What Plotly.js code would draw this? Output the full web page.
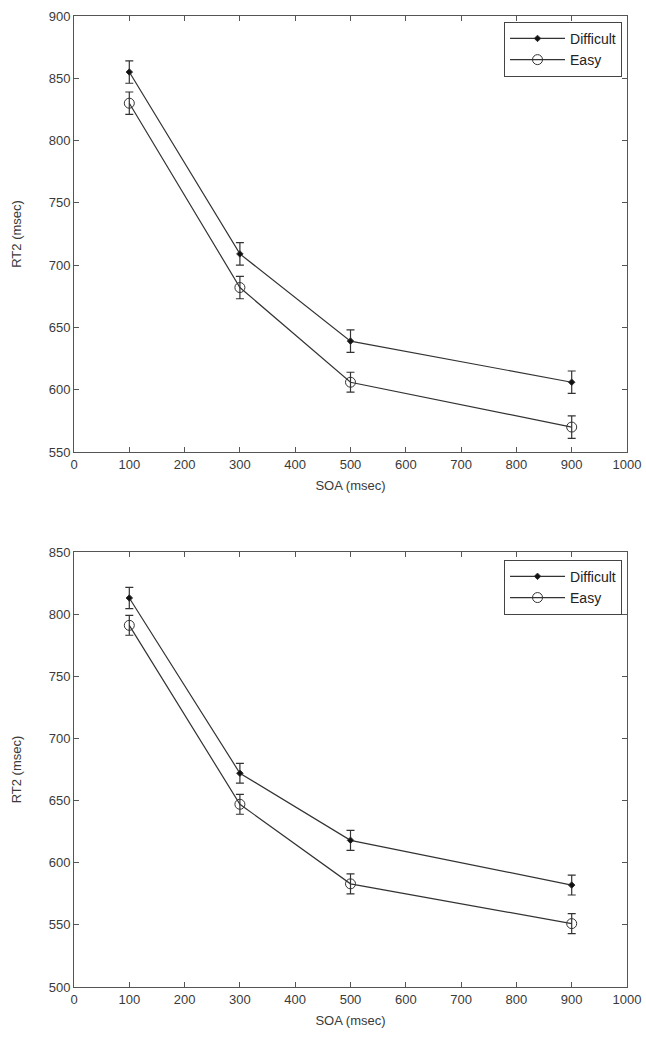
<!DOCTYPE html>
<html>
<head>
<meta charset="utf-8">
<script src="https://cdn.plot.ly/plotly-3.0.1.min.js"></script>
<style>html,body{margin:0;padding:0;background:#fff;}#chart{width:646px;height:1040px;}</style>
</head>
<body>
<div id="chart"></div>
<script>
// Data
const soa = [100, 300, 500, 900];
const topDifficult = [855, 709, 639, 606];
const topDifficultErr = [9, 9, 9, 9];
const topEasy = [830, 682, 606, 570];
const topEasyErr = [9, 9, 8, 9];
const botDifficult = [813, 672, 618, 582];
const botDifficultErr = [8.5, 8, 8, 8];
const botEasy = [791, 647, 583, 551];
const botEasyErr = [8, 8, 8, 8];
const seriesNames = ["Difficult", "Easy"];

const lineColor = "#333";
function trace(y, err, name, xa, ya, legend, symbol, size) {
  return {
    x: soa, y: y, name: name, type: "scatter", mode: "lines+markers",
    xaxis: xa, yaxis: ya, legend: legend,
    line: {color: lineColor, width: 1.2},
    marker: {symbol: symbol, size: size, color: symbol === "circle-open" ? lineColor : "#111",
             line: {color: lineColor, width: 1}},
    error_y: {type: "data", array: err, visible: true, color: lineColor, thickness: 1.2, width: 4}
  };
}
const data = [
  trace(topDifficult, topDifficultErr, seriesNames[0], "x", "y", "legend", "diamond", 5),
  trace(topEasy, topEasyErr, seriesNames[1], "x", "y", "legend", "circle-open", 10),
  trace(botDifficult, botDifficultErr, seriesNames[0], "x2", "y2", "legend2", "diamond", 5),
  trace(botEasy, botEasyErr, seriesNames[1], "x2", "y2", "legend2", "circle-open", 10)
];

const font = {family: "Liberation Sans, Arial, sans-serif", size: 13, color: "#3a3a3a"};
function xaxis(anchor) {
  return {
    anchor: anchor, range: [0, 1000], dtick: 100, tick0: 0,
    showgrid: false, zeroline: false, showline: true, linecolor: "#555", linewidth: 1,
    mirror: "allticks", ticks: "inside", ticklen: 5, tickcolor: "#555",
    tickfont: font, title: {text: "SOA (msec)", font: font, standoff: 10}
  };
}
function yaxis(anchor, range, domain) {
  return {
    anchor: anchor, range: range, dtick: 50, domain: domain,
    showgrid: false, zeroline: false, showline: true, linecolor: "#555", linewidth: 1,
    mirror: "allticks", ticks: "inside", ticklen: 5, tickcolor: "#555",
    tickfont: font, title: {text: "RT2 (msec)", font: font, standoff: 24}
  };
}
const legendBase = {
  xanchor: "right", yanchor: "top", x: 0.991,
  bgcolor: "#fff", bordercolor: "#444", borderwidth: 1,
  font: {family: "Liberation Sans, Arial, sans-serif", size: 14, color: "#222"},
  itemwidth: 55, tracegroupgap: 0
};
const layout = {
  width: 646, height: 1040,
  margin: {l: 74, r: 19, t: 16, b: 53},
  paper_bgcolor: "#fff", plot_bgcolor: "#fff",
  font: font,
  xaxis: xaxis("y"),
  yaxis: yaxis("x", [550, 900], [0.551, 1]),
  xaxis2: xaxis("y2"),
  yaxis2: yaxis("x2", [500, 850], [0, 0.448]),
  legend: Object.assign({}, legendBase, {y: 0.994}),
  legend2: Object.assign({}, legendBase, {y: 0.44}),
  showlegend: true
};
Plotly.newPlot("chart", data, layout, {displayModeBar: false, staticPlot: true});
</script>
</body>
</html>
